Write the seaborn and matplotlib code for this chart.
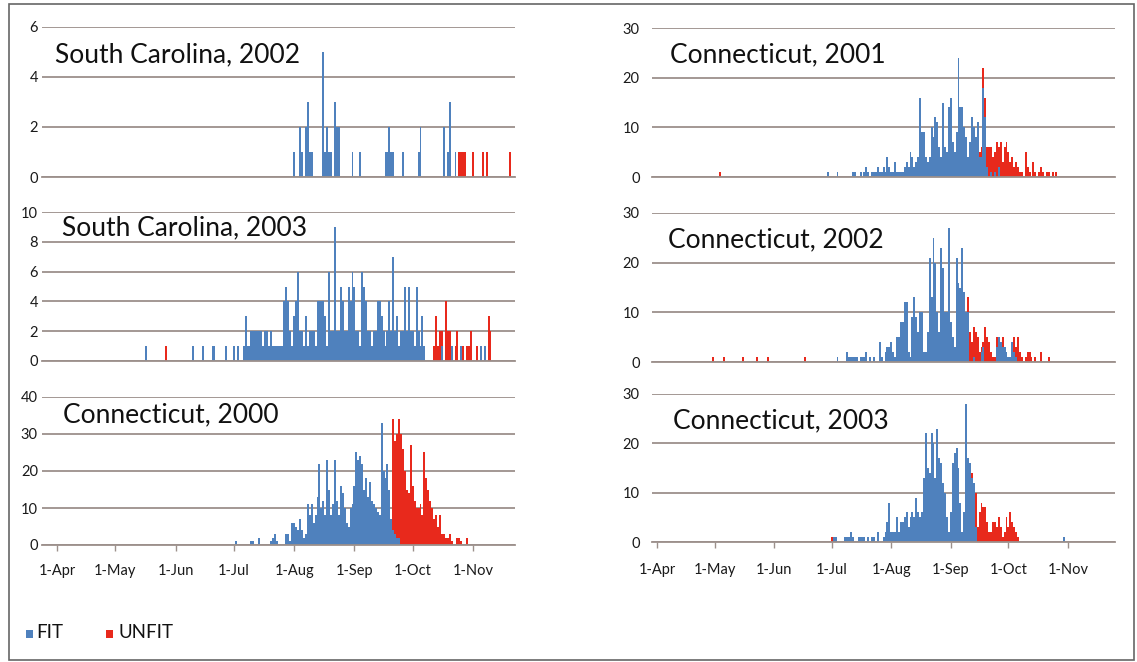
import matplotlib
matplotlib.use("Agg")
import matplotlib.pyplot as plt
import seaborn as sns
import pandas as pd
from matplotlib.patches import Rectangle

# ---- axis definition: day numbers counted from 1-Apr (day 0) ----
month_days = [0, 30, 61, 91, 122, 153, 183, 214]
month_labels = ['1-Apr', '1-May', '1-Jun', '1-Jul', '1-Aug', '1-Sep', '1-Oct', '1-Nov']

# ---- data: {day: number of birds} ----
sc2002_fit = {122: 1, 125: 2, 126: 1, 128: 2, 129: 3, 130: 1, 131: 1, 137: 5, 138: 1, 139: 2, 140: 1,
              141: 1, 143: 3, 144: 2, 145: 2, 152: 1, 156: 1, 169: 1, 170: 1, 171: 2, 172: 1, 173: 1,
              178: 1, 186: 1, 187: 2, 199: 2, 201: 1, 202: 3, 205: 1}
sc2002_unfit = {207: 1, 208: 1, 209: 1, 210: 1, 214: 1, 219: 1, 221: 1, 233: 1}

sc2003_fit = {46: 1, 70: 1, 75: 1, 80: 1, 81: 1, 87: 1, 91: 1, 93: 1, 96: 1, 97: 3, 98: 1, 99: 1,
              100: 2, 101: 2, 102: 2, 103: 2, 104: 2, 105: 2, 106: 1, 107: 2, 108: 2, 109: 1, 110: 2,
              111: 1, 112: 1, 113: 1, 114: 1, 115: 1, 116: 1, 117: 4, 118: 5, 119: 4, 120: 2, 121: 1,
              122: 3, 123: 4, 124: 6, 125: 2, 126: 2, 127: 1, 128: 3, 129: 1, 130: 2, 131: 2, 132: 2,
              133: 1, 134: 4, 135: 4, 136: 4, 137: 4, 138: 3, 139: 1, 140: 6, 141: 2, 142: 2, 143: 9,
              144: 2, 145: 2, 146: 5, 147: 4, 148: 2, 149: 2, 150: 5, 151: 4, 152: 6, 153: 5, 154: 2,
              155: 2, 156: 1, 157: 6, 158: 5, 159: 4, 160: 2, 161: 2, 162: 1, 163: 2, 164: 2, 165: 4,
              166: 4, 167: 3, 168: 2, 169: 1, 170: 2, 171: 4, 172: 2, 173: 7, 174: 2, 175: 3, 176: 1,
              177: 2, 178: 2, 179: 5, 180: 2, 181: 5, 182: 2, 183: 2, 184: 1, 185: 5, 186: 2, 187: 1,
              188: 3, 189: 1, 198: 1, 203: 1, 208: 1, 218: 1, 220: 1}
sc2003_unfit = {56: 1, 194: 1, 195: 3, 196: 1, 197: 2, 198: 1, 200: 4, 201: 2, 202: 2, 205: 1,
                206: 2, 209: 1, 211: 1, 212: 1, 213: 2, 216: 1, 222: 3, 223: 2}

ct2000_fit = {92: 1, 100: 1, 101: 1, 104: 2, 110: 1, 111: 2, 112: 3, 113: 1, 118: 3, 119: 3, 120: 1,
              121: 6, 122: 6, 123: 5, 124: 4, 125: 7, 126: 4, 127: 2, 128: 3, 129: 11, 130: 8, 131: 11,
              132: 6, 133: 8, 134: 13, 135: 22, 136: 10, 137: 12, 138: 8, 139: 23, 140: 15, 141: 8,
              142: 11, 143: 23, 144: 12, 145: 8, 146: 16, 147: 14, 148: 10, 149: 6, 150: 5, 151: 10,
              152: 11, 153: 16, 154: 25, 155: 23, 156: 24, 157: 22, 158: 15, 159: 18, 160: 13, 161: 17,
              162: 12, 163: 11, 164: 10, 165: 9, 166: 8, 167: 33, 168: 20, 169: 18, 170: 22, 171: 15,
              172: 7, 173: 4, 174: 3, 175: 2, 176: 2}
ct2000_unfit = {173: 30, 174: 25, 175: 28, 176: 32, 177: 30, 178: 26, 179: 20, 180: 15, 181: 14,
                182: 27, 183: 16, 184: 12, 185: 10, 186: 10, 187: 11, 188: 8, 189: 25, 190: 18,
                191: 15, 192: 12, 193: 10, 194: 7, 195: 8, 196: 5, 197: 8, 198: 3, 199: 3, 200: 2,
                201: 2, 202: 3, 203: 1, 206: 2, 207: 2, 208: 1, 211: 2}

ct2001_fit = {89: 1, 94: 1, 102: 1, 103: 1, 106: 1, 108: 1, 109: 2, 110: 1, 112: 1, 113: 1, 114: 1,
              115: 2, 116: 1, 117: 1, 118: 2, 119: 1, 120: 4, 121: 2, 122: 1, 123: 1, 124: 3, 125: 1,
              126: 1, 127: 1, 128: 1, 129: 2, 130: 3, 131: 2, 132: 5, 133: 4, 134: 2, 135: 3, 136: 4,
              137: 16, 138: 9, 139: 9, 140: 4, 141: 3, 142: 4, 143: 10, 144: 8, 145: 12, 146: 11,
              147: 6, 148: 4, 149: 15, 150: 6, 151: 5, 152: 14, 153: 16, 154: 7, 155: 5, 156: 9,
              157: 24, 158: 14, 159: 14, 160: 10, 161: 8, 162: 4, 163: 7, 164: 12, 165: 10, 166: 8,
              167: 11, 168: 4, 169: 4, 170: 18, 171: 12, 172: 2, 174: 1, 176: 1, 178: 2}
ct2001_unfit = {33: 1, 168: 1, 169: 2, 170: 4, 171: 4, 172: 4, 173: 6, 174: 5, 175: 4, 176: 4,
                177: 7, 178: 4, 179: 7, 180: 3, 181: 6, 182: 7, 183: 5, 184: 3, 185: 4, 186: 2,
                187: 3, 188: 2, 189: 1, 190: 1, 192: 5, 193: 2, 194: 1, 196: 3, 197: 1, 199: 1,
                200: 2, 201: 1, 203: 1, 204: 1, 206: 1, 208: 1}

ct2002_fit = {94: 1, 99: 2, 100: 1, 101: 1, 102: 1, 103: 1, 104: 1, 106: 1, 107: 1, 108: 1, 109: 2,
              111: 1, 113: 1, 116: 4, 117: 1, 119: 2, 120: 3, 121: 3, 122: 4, 123: 2, 124: 1, 125: 5,
              126: 5, 127: 8, 128: 8, 129: 12, 130: 12, 131: 2, 132: 1, 133: 9, 134: 13, 135: 9,
              136: 6, 137: 10, 138: 10, 139: 2, 140: 2, 141: 6, 142: 21, 143: 13, 144: 25, 145: 20,
              146: 10, 147: 6, 148: 23, 149: 19, 150: 10, 151: 10, 152: 27, 153: 8, 154: 5, 155: 3,
              156: 21, 157: 16, 158: 15, 159: 23, 160: 14, 161: 10, 162: 10, 165: 1, 169: 2, 170: 3,
              177: 3, 178: 5, 179: 4, 180: 3, 181: 3, 182: 2, 183: 1, 184: 1, 185: 4, 186: 2, 187: 1}
ct2002_unfit = {29: 1, 35: 1, 45: 1, 52: 1, 58: 1, 77: 1, 162: 3, 163: 6, 164: 4, 165: 6, 166: 6,
                167: 5, 168: 2, 169: 1, 170: 1, 171: 7, 172: 5, 173: 4, 174: 2, 175: 1, 176: 1,
                177: 2, 180: 2, 186: 3, 187: 2, 188: 5, 189: 2, 190: 1, 192: 1, 193: 2, 194: 2,
                195: 1, 197: 1, 200: 2, 204: 1}

ct2003_fit = {92: 1, 93: 1, 98: 1, 99: 1, 100: 1, 101: 2, 102: 1, 105: 1, 106: 1, 107: 1, 108: 1,
              110: 1, 112: 1, 113: 1, 115: 2, 118: 1, 119: 2, 120: 4, 121: 8, 122: 2, 123: 2, 124: 2,
              125: 5, 126: 2, 127: 4, 128: 4, 129: 5, 130: 6, 131: 3, 132: 5, 133: 6, 134: 5, 135: 9,
              136: 6, 137: 5, 138: 6, 139: 13, 140: 22, 141: 15, 142: 14, 143: 22, 144: 20, 145: 13,
              146: 23, 147: 17, 148: 16, 149: 12, 150: 10, 151: 5, 152: 2, 153: 6, 154: 16, 155: 18,
              156: 19, 157: 15, 158: 8, 159: 2, 160: 6, 161: 28, 162: 17, 163: 16, 164: 13, 165: 12,
              166: 3, 212: 1}
ct2003_unfit = {91: 1, 164: 1, 166: 7, 167: 3, 168: 6, 169: 8, 170: 7, 171: 7, 172: 4, 173: 2,
                174: 2, 175: 4, 176: 4, 177: 3, 178: 5, 179: 3, 180: 1, 181: 2, 182: 5, 183: 3,
                184: 6, 185: 4, 186: 3, 187: 2, 188: 1}

titles = ['South Carolina, 2002', 'South Carolina, 2003', 'Connecticut, 2000',
          'Connecticut, 2001', 'Connecticut, 2002', 'Connecticut, 2003']
series = [(sc2002_fit, sc2002_unfit), (sc2003_fit, sc2003_unfit), (ct2000_fit, ct2000_unfit),
          (ct2001_fit, ct2001_unfit), (ct2002_fit, ct2002_unfit), (ct2003_fit, ct2003_unfit)]
y_max = [6, 10, 40, 30, 30, 30]
y_step = [2, 2, 10, 10, 10, 10]

# ---- styling ----
BLUE = '#4F81BD'
RED = '#E8291C'
GRID = '#9C908B'
W, H = 1137, 662

sns.set_theme(style='white')
plt.rcParams['font.family'] = ['Lato', 'DejaVu Sans']

fig = plt.figure(figsize=(W / 100, H / 100), dpi=100)
fig.patch.set_facecolor('white')

# pixel boxes (x0, x1, ytop, ybottom) for each plot area
boxes = [(42, 515, 27, 177), (42, 515, 212, 361), (42, 515, 397, 545),
         (652, 1115, 28, 177), (652, 1115, 213, 362), (652, 1115, 394, 542)]
xlims = [(-7.7, 235.6)] * 3 + [(-2.6, 238.5)] * 3
title_pos = [(55, 55), (62, 228), (63, 415), (670, 55), (668, 240), (673, 421)]


def ax_rect(b):
    x0, x1, yt, yb = b
    return [x0 / W, 1 - yb / H, (x1 - x0) / W, (yb - yt) / H]


for i in range(6):
    ax = fig.add_axes(ax_rect(boxes[i]))
    fit, unfit = series[i]
    unfit_days = sorted(unfit)
    # stacked look: FIT + UNFIT total drawn in red where there are unfit birds,
    # FIT drawn over its lower part in blue
    total_df = pd.DataFrame({'day': unfit_days,
                             'count': [fit.get(d, 0) + unfit[d] for d in unfit_days]})
    fit_df = pd.DataFrame({'day': list(fit.keys()), 'count': list(fit.values())})
    sns.barplot(data=total_df, x='day', y='count', native_scale=True, color=RED, saturation=1,
                width=1.0, errorbar=None, linewidth=0, edgecolor='none', antialiased=False, ax=ax)
    sns.barplot(data=fit_df, x='day', y='count', native_scale=True, color=BLUE, saturation=1,
                width=1.0, errorbar=None, linewidth=0, edgecolor='none', antialiased=False, ax=ax)
    ax.set_xlim(*xlims[i])
    ax.set_ylim(0, y_max[i])
    ax.set_yticks(list(range(0, y_max[i] + 1, y_step[i])))
    ax.set_xlabel('')
    ax.set_ylabel('')
    ax.grid(axis='y', color=GRID, linewidth=1.3)
    ax.grid(axis='x', visible=False)
    ax.set_axisbelow(True)
    for s in ['top', 'right', 'left']:
        ax.spines[s].set_visible(False)
    ax.spines['bottom'].set_color(GRID)
    ax.spines['bottom'].set_linewidth(1.3)
    left = i < 3
    ax.tick_params(axis='y', length=0, pad=3 if left else 9, labelsize=10.5, labelcolor='#1a1a1a')
    ax.set_xticks(month_days)
    if i in (2, 5):
        ax.set_xticklabels(month_labels)
        ax.tick_params(axis='x', length=4, width=1, color=GRID, direction='out',
                       pad=10 if left else 11, labelsize=10.5, labelcolor='#1a1a1a', bottom=True)
    else:
        ax.tick_params(axis='x', length=0, labelbottom=False)
    tx, ty = title_pos[i]
    fig.text(tx / W, 1 - ty / H, titles[i], ha='left', va='center', fontsize=19, color='#111111')

# legend
fig.patches.append(Rectangle((26 / W, 1 - 638 / H), 7 / W, 8 / H, transform=fig.transFigure,
                             facecolor=BLUE, edgecolor='none'))
fig.text(36 / W, 1 - 633 / H, 'FIT', ha='left', va='center', fontsize=13.5, color='#111111')
fig.patches.append(Rectangle((106 / W, 1 - 638 / H), 7 / W, 8 / H, transform=fig.transFigure,
                             facecolor=RED, edgecolor='none'))
fig.text(118 / W, 1 - 633 / H, 'UNFIT', ha='left', va='center', fontsize=13.5, color='#111111')

# outer frame
fig.patches.append(Rectangle((9 / W, 2 / H), (1134 - 9) / W, (658 - 2) / H, transform=fig.transFigure,
                             facecolor='none', edgecolor='#666666', linewidth=1.2))

fig.savefig('out.png', dpi=100, facecolor='white')
